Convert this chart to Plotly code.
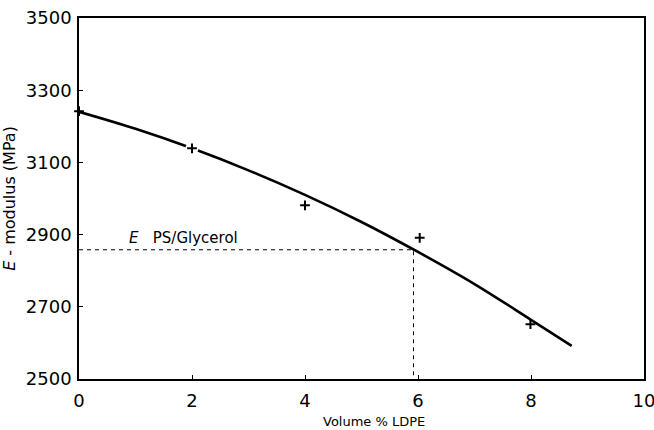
import plotly.graph_objects as go

# measured points
pts_x = [0, 2, 4, 6.03, 7.99]
pts_y = [3242, 3139, 2981, 2891, 2652]

# fitted curve
curve_x = [0, 1, 2, 3, 4, 5, 6, 7, 8, 8.72]
curve_y = [3240, 3193, 3139, 3078, 3010, 2935, 2852, 2763, 2664, 2592]

# reference level for PS/Glycerol
ref_x = 5.92
ref_y = 2858

x_ticks = [0, 2, 4, 6, 8, 10]
x_labels = ["0", "2", "4", "6", "8", "10"]
y_ticks = [2500, 2700, 2900, 3100, 3300, 3500]
y_labels = ["2500", "2700", "2900", "3100", "3300", "3500"]

fig = go.Figure()

# dashed reference lines
fig.add_trace(go.Scatter(x=[0, ref_x, ref_x], y=[ref_y, ref_y, 2500], mode="lines",
                         line=dict(color="black", width=1, dash="4px,4px"),
                         hoverinfo="skip", showlegend=False))

fig.add_trace(go.Scatter(x=curve_x, y=curve_y, mode="lines",
                         line=dict(color="black", width=2.6, shape="spline", smoothing=1),
                         showlegend=False))

# white gap around point at x=2
fig.add_trace(go.Scatter(x=[pts_x[1]], y=[pts_y[1]], mode="markers",
                         marker=dict(symbol="circle", size=13, color="white",
                                     line=dict(width=0)),
                         hoverinfo="skip", showlegend=False))

fig.add_trace(go.Scatter(x=pts_x, y=pts_y, mode="markers",
                         marker=dict(symbol="cross-thin", size=7, color="black",
                                     line=dict(color="black", width=2)),
                         showlegend=False, cliponaxis=False))

fig.add_annotation(x=0.85, y=2890, xref="x", yref="y", xanchor="left", yanchor="middle",
                   text="<i>E</i>   PS/Glycerol", showarrow=False,
                   font=dict(family="DejaVu Sans", size=15, color="black"))

# x-axis title
fig.add_annotation(x=0.522, y=0, xref="paper", yref="paper", xanchor="center",
                   yanchor="middle", yshift=-42, text="Volume % LDPE", showarrow=False,
                   font=dict(family="DejaVu Sans", size=13, color="black"))

axis_common = dict(showgrid=False, zeroline=False, showline=True, linecolor="black",
                   linewidth=1.6, mirror=True, ticks="inside", ticklen=4,
                   tickcolor="black", tickwidth=1.2, automargin=False,
                   ticklabeloverflow="allow",
                   tickfont=dict(family="DejaVu Sans", size=18, color="black"))

fig.update_xaxes(range=[0, 10], tickvals=x_ticks, ticktext=x_labels,
                 ticklabelstandoff=5, **axis_common)
fig.update_yaxes(range=[2500, 3500], tickvals=y_ticks, ticktext=y_labels,
                 ticklabelstandoff=2,
                 title=dict(text="<i>E</i> - modulus (MPa)", standoff=7,
                            font=dict(family="DejaVu Sans", size=16, color="black")),
                 **axis_common)

fig.update_layout(width=654, height=430, margin=dict(l=79, r=10, t=18, b=51),
                  paper_bgcolor="white", plot_bgcolor="white")

fig.write_html("out.html")
